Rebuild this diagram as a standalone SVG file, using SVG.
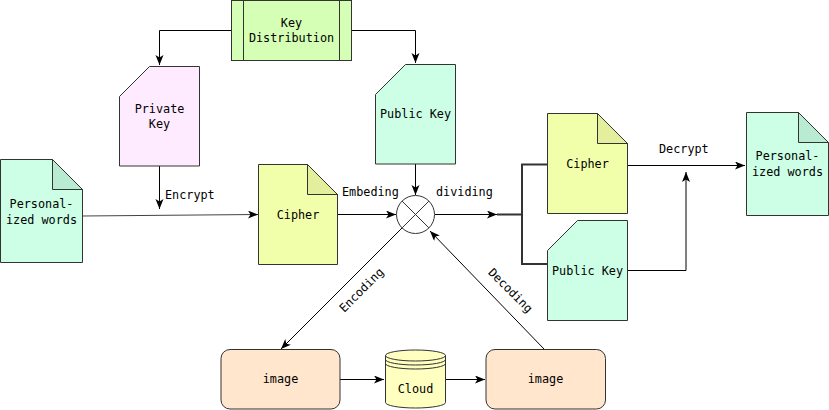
<svg xmlns="http://www.w3.org/2000/svg" width="829" height="410" viewBox="0 0 829 410">
<defs>
<marker id="arr" markerUnits="userSpaceOnUse" markerWidth="11" markerHeight="9" refX="10" refY="4" orient="auto">
<path d="M0,0 L10,4 L0,8 L2.5,4 Z" fill="#000"/>
</marker>
<style>
text{font-family:"DejaVu Sans Mono","Liberation Mono",monospace;font-size:11.8px;fill:#000}
.c{text-anchor:middle}
.n{stroke:#333;stroke-width:1}
.mint{fill:#ccffe6}
.mintf{fill:#b9ead2}
.yel{fill:#f2ffaa}
.yelf{fill:#e3ef9d}
.pink{fill:#ffebff}
.grn{fill:#d5ffb5}
.peach{fill:#ffe6cc}
.cyl{fill:#ffffc0}
.e{fill:none;stroke:#000;stroke-width:1}
.a{marker-end:url(#arr)}
</style>
</defs>
<rect width="829" height="410" fill="#fff"/>
<g id="connectors">
<path class="e a" d="M231,30.5 H159.5 V65"/>
<path class="e a" d="M351,30.5 H415.5 V63"/>
<path class="e a" d="M159.5,166 V209"/>
<path d="M82,216 L258,214.5" fill="none" stroke="#444" stroke-width="1.2" marker-end="url(#arr)"/>
<path class="e a" d="M338,214.5 H396"/>
<path class="e a" d="M415.5,164 V195"/>
<path class="e a" d="M435,214.5 H497"/>
<path d="M497,214.5 H522 M522,164.5 V264 M521,164.5 H547 M521,264 H547" fill="none" stroke="#333" stroke-width="2"/>
<path class="e a" d="M627,165.5 H745"/>
<path class="e a" d="M627,270.5 H686 V172"/>
<path class="e a" d="M402,228 L281,349"/>
<path class="e a" d="M544,349 L430,231"/>
<path class="e a" d="M340,379.5 H384"/>
<path class="e a" d="M446,379.5 H485"/>
<text x="165" y="199">Encrypt</text>
<text x="342" y="196">Embeding</text>
<text x="436" y="196">dividing</text>
<text x="659" y="153">Decrypt</text>
<text class="c" transform="translate(361.5,290) rotate(-45)" dy="4">Encoding</text>
<text class="c" transform="translate(510.5,290.5) rotate(45)" dy="4">Decoding</text>
</g>
<g id="keydist">
<rect class="n grn" x="231.5" y="0.5" width="120" height="60"/>
<path class="n" d="M243.5,0.5 V60.5 M339.5,0.5 V60.5" fill="none"/>
<text class="c" x="291.5" y="27">Key</text>
<text class="c" x="291.5" y="42">Distribution</text>
</g>
<g id="privatekey">
<path class="n pink" d="M149.5,66.5 H199.5 V166 H119.5 V96.5 Z"/>
<text class="c" x="159.5" y="113">Private</text>
<text class="c" x="159.5" y="128">Key</text>
</g>
<g id="publickey1">
<path class="n mint" d="M405.5,64.5 H455.5 V164 H375.5 V94.5 Z"/>
<text class="c" x="415.5" y="118">Public Key</text>
</g>
<g id="words1">
<path class="n mint" d="M0.5,159.5 H52.5 L82.5,189.5 V262.5 H0.5 Z"/>
<path class="n mintf" d="M52.5,159.5 V189.5 H82.5 Z"/>
<text class="c" x="41.5" y="208">Personal-</text>
<text class="c" x="41.5" y="224">ized words</text>
</g>
<g id="cipher1">
<path class="n yel" d="M258.5,164.5 H307.5 L337.5,194.5 V264.5 H258.5 Z"/>
<path class="n yelf" d="M307.5,164.5 V194.5 H337.5 Z"/>
<text class="c" x="298" y="219">Cipher</text>
</g>
<g id="mixer">
<circle class="n" cx="415.5" cy="214.5" r="19" fill="#fff"/>
<path class="n" d="M402.1,201.1 L428.9,227.9 M428.9,201.1 L402.1,227.9" fill="none"/>
</g>
<g id="cipher2">
<path class="n yel" d="M547.5,113.5 H597.5 L627.5,143.5 V213.5 H547.5 Z"/>
<path class="n yelf" d="M597.5,113.5 V143.5 H627.5 Z"/>
<text class="c" x="587.5" y="168">Cipher</text>
</g>
<g id="publickey2">
<path class="n mint" d="M577.5,220.5 H627.5 V320.5 H547.5 V250.5 Z"/>
<text class="c" x="587.5" y="275">Public Key</text>
</g>
<g id="words2">
<path class="n mint" d="M746.5,112.5 H798.5 L828.5,142.5 V215.5 H746.5 Z"/>
<path class="n mintf" d="M798.5,112.5 V142.5 H828.5 Z"/>
<text class="c" x="787.5" y="160">Personal-</text>
<text class="c" x="787.5" y="176">ized words</text>
</g>
<g id="image1">
<rect class="n peach" x="221" y="349.5" width="119" height="59.5" rx="9" ry="9"/>
<text class="c" x="280.5" y="383">image</text>
</g>
<g id="cloud">
<path class="n cyl" d="M385.5,355.5 A30,5.5 0 0 1 445.5,355.5 V402.5 A30,5.5 0 0 1 385.5,402.5 Z"/>
<path class="n" fill="none" d="M385.5,355.5 A30,5.5 0 0 0 445.5,355.5 M385.5,359.5 A30,5.5 0 0 0 445.5,359.5 M385.5,363.5 A30,5.5 0 0 0 445.5,363.5"/>
<text class="c" x="415.5" y="393">Cloud</text>
</g>
<g id="image2">
<rect class="n peach" x="486" y="349.5" width="119.5" height="59.5" rx="9" ry="9"/>
<text class="c" x="545.5" y="383">image</text>
</g>
</svg>
